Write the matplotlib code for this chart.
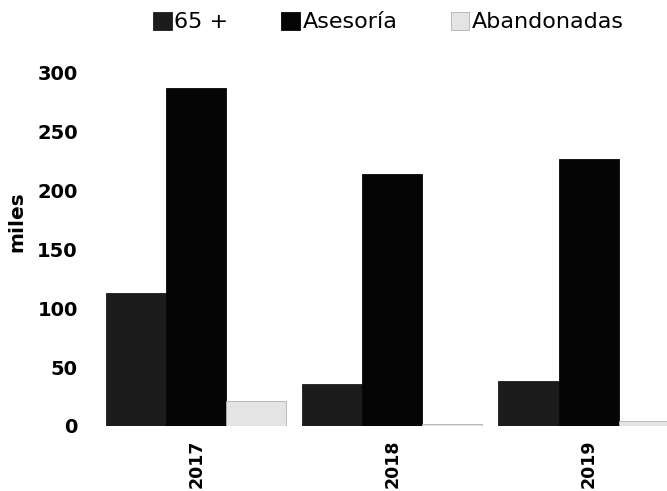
import numpy as np
import matplotlib
matplotlib.use('Agg')
import matplotlib.pyplot as plt

# Datos (miles)
anios = ['2017', '2018', '2019']
serie_65 = [113, 36, 38]
asesoria = [287, 214, 227]
abandonadas = [21, 2, 4]
nombres = ['65 +', 'Asesoría', 'Abandonadas']
colores = ['#1c1c1c', '#050505', '#e4e4e4']

fig = plt.figure(figsize=(6.67, 4.91), dpi=100)
ax = fig.add_axes([0.15, 0.1324, 0.85, 0.719])

x = np.arange(len(anios))
w = 0.306
for i, (vals, nombre, col) in enumerate(zip([serie_65, asesoria, abandonadas], nombres, colores)):
    ax.bar(x + (i - 1) * w, vals, width=w, color=col, label=nombre,
           edgecolor='#b0b0b0' if i == 2 else col, linewidth=0.6)

ax.set_xlim(-0.49, 2.40)
ax.set_ylim(0, 300)
ax.set_yticks([0, 50, 100, 150, 200, 250, 300])
ax.set_xticks(x)
ax.set_xticklabels(anios, rotation=90, fontsize=12.5, fontweight='bold', family='DejaVu Sans')
for t in ax.get_yticklabels():
    t.set_fontsize(14)
    t.set_fontweight('bold')
    t.set_family('DejaVu Sans')
ax.tick_params(axis='y', length=0, pad=16)
ax.tick_params(axis='x', length=0, pad=10)
ax.set_ylabel('miles', fontsize=14.5, fontweight='bold', family='DejaVu Sans')
ax.yaxis.set_label_coords(-0.13, 0.578)
for s in ax.spines.values():
    s.set_visible(False)

fig.legend(loc='center', bbox_to_anchor=(0.582, 0.955), ncol=3, frameon=False,
           prop={'family': 'DejaVu Sans', 'size': 16}, handlelength=0.85, handleheight=0.85,
           handletextpad=0.1, columnspacing=2.4)

fig.savefig('out.png', dpi=100)
